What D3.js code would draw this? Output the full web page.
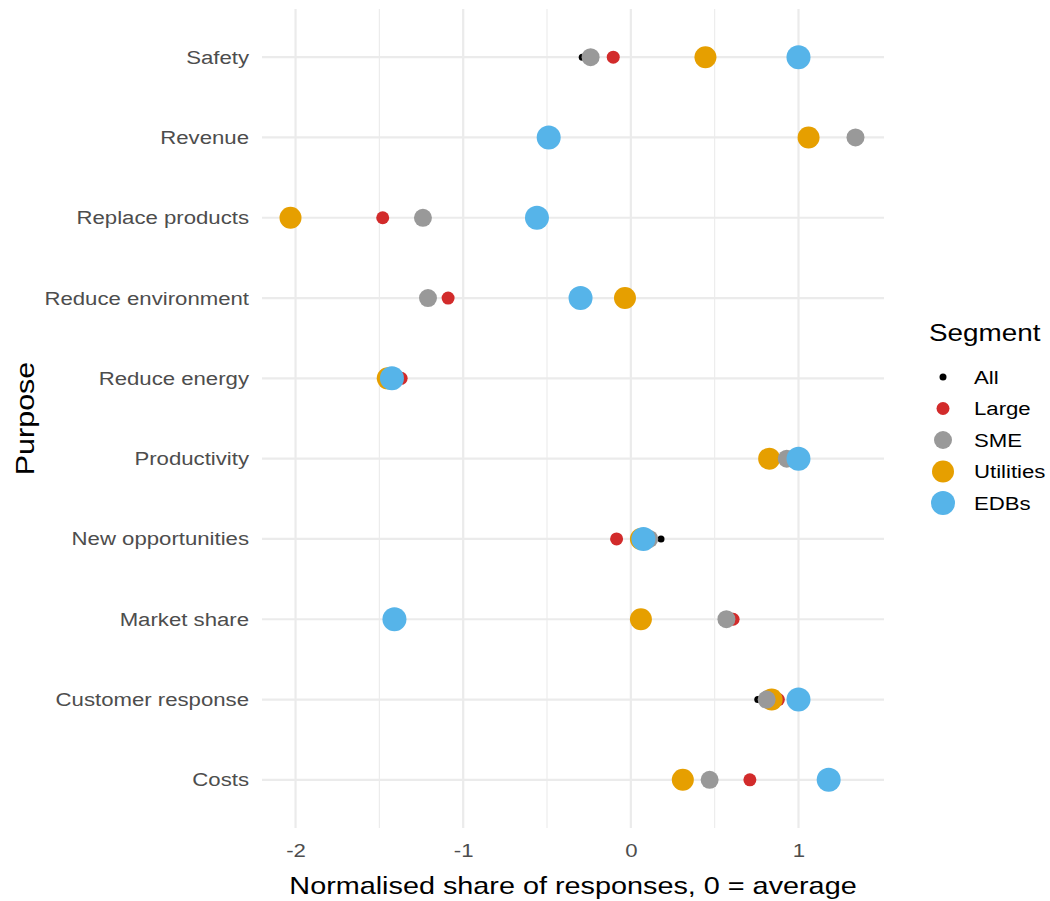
<!DOCTYPE html>
<html><head><meta charset="utf-8">
<script src="https://cdn.jsdelivr.net/npm/d3@7"></script>
<style>body{margin:0;background:#fff;} text{font-family:"Liberation Sans",Arial,sans-serif;}</style>
</head><body>
<svg id="chart" width="1050" height="901"></svg>
<script>
const purposes = ["Safety","Revenue","Replace products","Reduce environment","Reduce energy","Productivity","New opportunities","Market share","Customer response","Costs"];
const segments = ["All","Large","SME","Utilities","EDBs"];
const segColors = ["#000000","#d22b2b","#999999","#e69f00","#56b4e9"];
const segRadius = [3.5,6.5,9,11,12];
// values per purpose, in the order of purposes (null = not visible)
const allVals       = [-0.29, null, null, null, null, null, 0.18, null, 0.757, null];
const largeVals     = [-0.105, null, -1.48, -1.09, -1.37, null, -0.085, 0.61, 0.88, 0.71];
const smeVals       = [-0.24, 1.34, -1.24, -1.21, -1.44, 0.93, 0.11, 0.57, 0.81, 0.47];
const utilitiesVals = [0.445, 1.06, -2.03, -0.035, -1.45, 0.825, 0.06, 0.06, 0.84, 0.31];
const edbVals       = [1.0, -0.49, -0.56, -0.30, -1.425, 1.0, 0.075, -1.41, 1.0, 1.18];
const xTicks = [-2,-1,0,1];
const xMinor = [-1.5,-0.5,0.5];

const seriesVals = [allVals, largeVals, smeVals, utilitiesVals, edbVals];
const drawOrder = [0,1,3,2,4];
const SX = 1.18; // horizontal text stretch of the reference rendering
const svg = d3.select("#chart");
const panel = {left:262, right:884, top:9, bottom:828};
const x = d3.scaleLinear().domain([-2.2,1.51]).range([panel.left, panel.right]);
const y = d3.scalePoint().domain(purposes).range([panel.top, panel.bottom]).padding(0.6);

function stretchText(sel, px, py, rot, sx){
  return sel.append("text").attr("transform",`translate(${px},${py})${rot?` rotate(${rot})`:""} scale(${sx||SX},1)`);
}

// grid
const g = svg.append("g");
g.selectAll(".minor").data(xMinor).enter().append("line")
  .attr("x1",d=>x(d)).attr("x2",d=>x(d)).attr("y1",panel.top).attr("y2",panel.bottom)
  .attr("stroke","#ebebeb").attr("stroke-width",1.1);
g.selectAll(".major").data(xTicks).enter().append("line")
  .attr("x1",d=>x(d)).attr("x2",d=>x(d)).attr("y1",panel.top).attr("y2",panel.bottom)
  .attr("stroke","#ebebeb").attr("stroke-width",2.2);
g.selectAll(".hmajor").data(purposes).enter().append("line")
  .attr("x1",panel.left).attr("x2",panel.right).attr("y1",d=>y(d)).attr("y2",d=>y(d))
  .attr("stroke","#ebebeb").attr("stroke-width",2.2);

// axes
const xAxis = d3.axisBottom(x).tickValues(xTicks).tickFormat(d3.format("d")).tickSize(0).tickPadding(0);
const xa = svg.append("g").attr("transform",`translate(0,${panel.bottom+16})`).call(xAxis);
xa.select(".domain").remove();
xa.selectAll("text").attr("fill","#4d4d4d").style("font-size","18.8px").attr("dy","0.71em")
  .attr("transform",`scale(${SX},1)`).text(d=> d<0 ? "-"+Math.abs(d) : d);

const yAxis = d3.axisLeft(y).tickSize(0).tickPadding(0);
const ya = svg.append("g").attr("transform",`translate(${panel.left-13},0)`).call(yAxis);
ya.select(".domain").remove();
ya.selectAll("text").attr("fill","#4d4d4d").style("font-size","18.8px").attr("x",0)
  .attr("transform",`scale(${SX},1)`);

stretchText(svg,(panel.left+panel.right)/2, 894, 0, 1.2)
  .attr("text-anchor","middle").style("font-size","24px").attr("fill","#000")
  .text("Normalised share of responses, 0 = average");
stretchText(svg, 34, (panel.top+panel.bottom)/2, -90, 1.22)
  .attr("text-anchor","middle").style("font-size","25px").attr("fill","#000").text("Purpose");

// points
drawOrder.forEach(i=>{
  const pts = purposes.map((p,j)=>({p, v:seriesVals[i][j]})).filter(d=>d.v!==null);
  svg.append("g").selectAll("circle").data(pts).enter().append("circle")
    .attr("cx",d=>x(d.v)).attr("cy",d=>y(d.p)).attr("r",segRadius[i]).attr("fill",segColors[i]);
});

// legend
const lg = svg.append("g");
stretchText(lg, 929, 341, 0, 1.16).style("font-size","24px").attr("fill","#000").text("Segment");
segments.forEach((s,i)=>{
  const cy = 377 + i*31.5;
  lg.append("circle").attr("cx",943).attr("cy",cy).attr("r",segRadius[i]).attr("fill",segColors[i]);
  stretchText(lg, 974, cy).attr("dy","0.35em").style("font-size","18.8px").attr("fill","#000").text(s);
});
</script>
</body></html>
